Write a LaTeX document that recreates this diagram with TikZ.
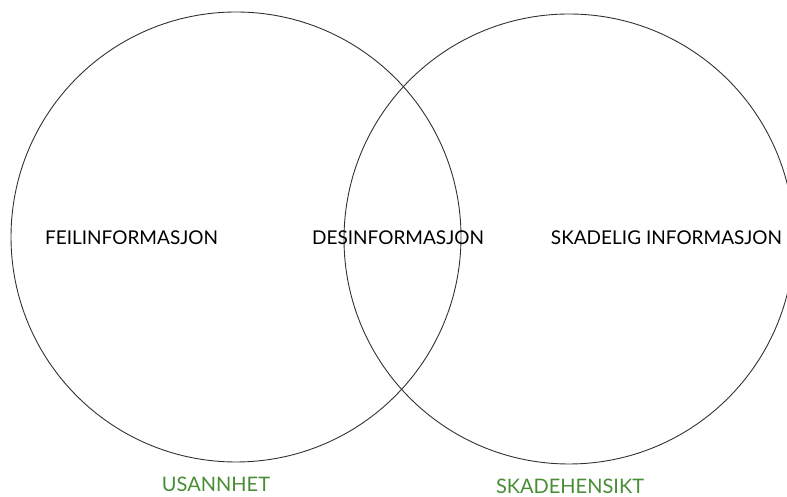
\documentclass[tikz,border=0pt]{standalone}
\usepackage{fontspec}
\setmainfont{Lato}
\usepackage{tikz}
\usetikzlibrary{positioning}
\definecolor{VennLine}{RGB}{50,50,50}
\definecolor{VennGreen}{RGB}{72,142,52}

\begin{document}
\begin{tikzpicture}[x=1pt, y=1pt,
          ring/.style={circle, draw=VennLine, line width=0.9pt, minimum size=450pt, inner sep=0pt},
          lbl/.style={font=\fontsize{19}{22}\selectfont, text=black, inner sep=0pt},
          axis/.style={font=\fontsize{20}{24}\selectfont, text=VennGreen, inner sep=0pt}
        ]
        \useasboundingbox (0,0) rectangle (787,497);
        \clip (0,0) rectangle (787,497);

        \node[ring] (usann) at (236, 260) {};
        \node[ring] (skade) at (569, 258) {};

        \node[lbl] (feil) at (131.5, 259) {FEILINFORMASJON};
        \node[lbl] (desinf) at (398, 259) {DESINFORMASJON};
        \node[lbl] (skinf) at (666.5, 259) {SKADELIG INFORMASJON};

        \node[axis] (usannhet) at (216, 12.5) {USANNHET};
        \node[axis] (hensikt) at (570, 11) {SKADEHENSIKT};
      \end{tikzpicture}
\end{document}
